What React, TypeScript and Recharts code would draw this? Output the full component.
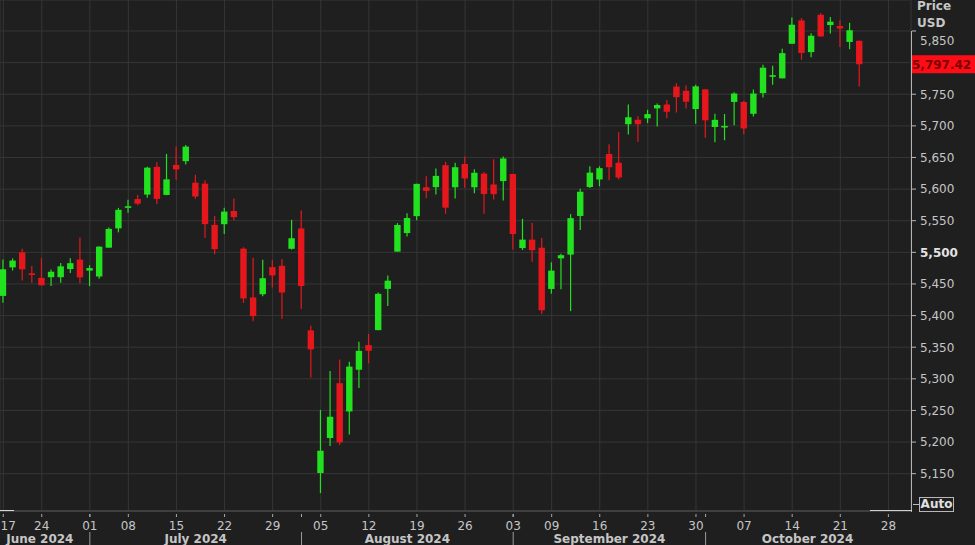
import React from 'react';
import { ComposedChart, Bar, XAxis, YAxis, CartesianGrid, ReferenceLine } from 'recharts';

// S&P 500 daily candles, 17 Jun 2024 .. 23 Oct 2024 (trading days only)
const dates = [
  'Jun 17', 'Jun 18', 'Jun 20', 'Jun 21', 'Jun 24', 'Jun 25', 'Jun 26', 'Jun 27', 'Jun 28',
  'Jul 01', 'Jul 02', 'Jul 03', 'Jul 05', 'Jul 08', 'Jul 09', 'Jul 10', 'Jul 11', 'Jul 12',
  'Jul 15', 'Jul 16', 'Jul 17', 'Jul 18', 'Jul 19', 'Jul 22', 'Jul 23', 'Jul 24', 'Jul 25',
  'Jul 26', 'Jul 29', 'Jul 30', 'Jul 31', 'Aug 01', 'Aug 02', 'Aug 05', 'Aug 06', 'Aug 07',
  'Aug 08', 'Aug 09', 'Aug 12', 'Aug 13', 'Aug 14', 'Aug 15', 'Aug 16', 'Aug 19', 'Aug 20',
  'Aug 21', 'Aug 22', 'Aug 23', 'Aug 26', 'Aug 27', 'Aug 28', 'Aug 29', 'Aug 30', 'Sep 03',
  'Sep 04', 'Sep 05', 'Sep 06', 'Sep 09', 'Sep 10', 'Sep 11', 'Sep 12', 'Sep 13', 'Sep 16',
  'Sep 17', 'Sep 18', 'Sep 19', 'Sep 20', 'Sep 23', 'Sep 24', 'Sep 25', 'Sep 26', 'Sep 27',
  'Sep 30', 'Oct 01', 'Oct 02', 'Oct 03', 'Oct 04', 'Oct 07', 'Oct 08', 'Oct 09', 'Oct 10',
  'Oct 11', 'Oct 14', 'Oct 15', 'Oct 16', 'Oct 17', 'Oct 18', 'Oct 21', 'Oct 22', 'Oct 23',
];

const opens = [
  5431.1, 5476.2, 5500.0, 5466.8, 5459.6, 5460.7, 5460.7, 5473.6, 5488.5,
  5471.1, 5461.8, 5507.4, 5537.9, 5572.8, 5584.2, 5591.3, 5635.2, 5590.8,
  5638.2, 5644.1, 5610.1, 5608.6, 5543.4, 5544.5, 5565.3, 5505.8, 5428.7,
  5433.7, 5476.6, 5478.7, 5505.6, 5537.8, 5376.6, 5151.1, 5206.4, 5293.1,
  5248.4, 5314.4, 5353.4, 5377.0, 5442.2, 5501.1, 5530.5, 5557.2, 5602.9,
  5603.1, 5637.8, 5602.9, 5639.7, 5602.9, 5624.5, 5607.3, 5612.7, 5623.9,
  5506.7, 5520.1, 5507.3, 5442.1, 5490.5, 5496.4, 5557.5, 5603.3, 5615.2,
  5655.5, 5641.7, 5702.6, 5709.6, 5711.9, 5727.6, 5733.7, 5762.2, 5755.4,
  5726.5, 5757.7, 5698.2, 5698.2, 5737.8, 5737.8, 5719.1, 5751.8, 5778.4,
  5775.1, 5829.8, 5866.7, 5816.6, 5875.6, 5859.4, 5857.8, 5832.7, 5834.5,
];

const highs = [
  5488.5, 5490.4, 5505.5, 5478.3, 5490.7, 5472.9, 5483.1, 5490.8, 5523.6,
  5479.6, 5509.7, 5539.3, 5570.3, 5583.1, 5590.8, 5635.4, 5642.5, 5655.6,
  5666.9, 5669.7, 5622.5, 5614.1, 5557.5, 5570.4, 5585.3, 5508.0, 5491.6,
  5488.3, 5487.7, 5489.5, 5551.5, 5566.2, 5383.9, 5250.9, 5312.3, 5330.6,
  5326.8, 5358.5, 5371.2, 5436.5, 5463.2, 5546.2, 5562.0, 5608.3, 5620.5,
  5632.7, 5643.2, 5641.8, 5651.6, 5631.2, 5627.0, 5647.0, 5651.4, 5623.9,
  5553.0, 5546.3, 5522.5, 5484.2, 5497.9, 5560.4, 5600.7, 5636.3, 5636.1,
  5670.8, 5689.8, 5733.6, 5715.1, 5725.4, 5735.3, 5741.0, 5767.4, 5763.8,
  5765.1, 5757.7, 5719.1, 5718.8, 5753.2, 5739.3, 5757.6, 5796.8, 5795.0,
  5822.1, 5871.4, 5870.4, 5846.5, 5878.5, 5872.2, 5866.9, 5863.0, 5834.9,
];

const lows = [
  5420.4, 5471.3, 5455.6, 5452.0, 5447.6, 5446.6, 5451.9, 5467.5, 5451.1,
  5446.5, 5458.4, 5507.4, 5531.6, 5562.5, 5574.6, 5586.4, 5576.5, 5590.4,
  5614.8, 5639.0, 5584.8, 5522.8, 5497.0, 5529.0, 5550.9, 5420.0, 5391.0,
  5430.7, 5444.4, 5395.0, 5504.5, 5410.4, 5302.0, 5119.3, 5193.6, 5195.5,
  5211.8, 5285.5, 5324.4, 5377.0, 5415.0, 5501.1, 5525.2, 5550.7, 5585.5,
  5591.6, 5561.0, 5585.2, 5602.3, 5593.5, 5561.0, 5583.7, 5581.8, 5504.3,
  5503.7, 5485.3, 5402.6, 5434.5, 5441.7, 5407.0, 5535.5, 5601.7, 5604.5,
  5614.1, 5615.1, 5686.4, 5674.5, 5704.2, 5699.0, 5712.1, 5721.0, 5727.3,
  5703.5, 5681.3, 5674.0, 5677.1, 5701.1, 5686.9, 5714.6, 5745.0, 5764.8,
  5775.1, 5829.8, 5804.5, 5808.3, 5840.3, 5846.1, 5824.8, 5821.2, 5762.4,
];

const closes = [
  5473.2, 5487.0, 5473.2, 5464.6, 5447.9, 5469.3, 5477.9, 5482.9, 5460.5,
  5475.1, 5509.0, 5537.0, 5567.2, 5572.9, 5577.0, 5633.9, 5584.5, 5615.4,
  5631.2, 5667.2, 5588.3, 5544.6, 5505.0, 5564.4, 5555.7, 5427.1, 5399.2,
  5459.1, 5463.5, 5436.4, 5522.3, 5446.7, 5346.6, 5186.3, 5240.0, 5199.5,
  5319.3, 5344.2, 5344.4, 5434.4, 5455.2, 5543.2, 5554.3, 5608.3, 5597.1,
  5620.9, 5570.6, 5634.6, 5616.8, 5625.8, 5592.2, 5592.0, 5648.4, 5528.9,
  5520.1, 5503.4, 5408.4, 5471.1, 5495.5, 5554.1, 5595.8, 5626.0, 5633.1,
  5634.6, 5618.3, 5713.6, 5702.6, 5718.6, 5732.9, 5722.3, 5745.4, 5738.2,
  5762.5, 5708.8, 5709.5, 5699.9, 5751.1, 5695.9, 5751.1, 5792.0, 5780.1,
  5815.0, 5859.9, 5815.3, 5842.5, 5841.5, 5864.7, 5854.0, 5851.2, 5797.42,
];

// x axis: trading-day index of each week start, and its label
const weekTicks = [0, 4, 9, 13, 18, 23, 28, 33, 38, 43, 48, 53, 57, 62, 67, 72, 77, 82, 87, 92];
const weekLabels = ['17', '24', '01', '08', '15', '22', '29', '05', '12', '19', '26', '03', '09', '16', '23', '30', '07', '14', '21', '28'];

// month row: first trading day of each month (separators) and label centres
const monthStarts = [9, 31, 53, 73];
const monthLabelAt = [3.8, 20, 42, 63, 83.6];
const monthLabels = ['June 2024', 'July 2024', 'August 2024', 'September 2024', 'October 2024'];

const priceTicks = [5150, 5200, 5250, 5300, 5350, 5400, 5450, 5500, 5550, 5600, 5650, 5700, 5750, 5800, 5850];

const GREEN = '#22e11f';
const RED = '#e5171c';
const BG = '#1f1f1f';
const GRID = '#363636';
const TEXT = '#c6c6c6';
const FONT = '"DejaVu Sans", Verdana, sans-serif';

const data = opens.map((o, k) => ({
  i: k,
  date: dates[k],
  open: o,
  high: highs[k],
  low: lows[k],
  close: closes[k],
  range: [lows[k], highs[k]],
}));

const lastClose = closes[closes.length - 1];

function Candle(props: any) {
  const { x, y, width, height, payload } = props;
  if (!payload) return null;
  const { open, close, high, low } = payload;
  const top = Math.min(y, y + height);
  const h = Math.abs(height);
  const perPt = h / (high - low || 1);
  const cx = x + width / 2;
  const yO = top + (high - open) * perPt;
  const yC = top + (high - close) * perPt;
  const color = close >= open ? GREEN : RED;
  const bodyTop = Math.min(yO, yC);
  const bodyH = Math.max(1.6, Math.abs(yO - yC));
  return (
    <g>
      <line x1={cx} x2={cx} y1={top} y2={top + h} stroke={color} strokeWidth={1.2} />
      <rect x={cx - 3.2} y={bodyTop} width={6.4} height={bodyH} fill={color} />
    </g>
  );
}

function PriceTick({ x, y, payload }: any) {
  const v = payload.value;
  if (v === 5800) return <g />;
  const bold = v === 5500;
  // top label sits a little lower, under the header
  const ty = v === 5850 ? y + 10 : y;
  return (
    <g>
      <line x1={x + 1} x2={x + 5} y1={y} y2={y} stroke="#b9b9b9" />
      <text
        x={x + 9}
        y={ty}
        dy="0.36em"
        fill={bold ? '#e2e2e2' : TEXT}
        fontFamily={FONT}
        fontSize={12}
        fontWeight={bold ? 'bold' : 'normal'}
      >
        {v.toLocaleString('en-US')}
      </text>
    </g>
  );
}

function DayTick({ x, y, index }: any) {
  const first = index === 0;
  return (
    <g>
      <line x1={x} x2={x} y1={y + 3} y2={y + 6} stroke="#a8a8a8" />
      <text
        x={first ? 0.5 : x}
        y={y + 18.5}
        textAnchor={first ? 'start' : 'middle'}
        fill={TEXT}
        fontFamily={FONT}
        fontSize={12}
      >
        {weekLabels[index] ?? ''}
      </text>
    </g>
  );
}

function MonthTick({ x, y, payload }: any) {
  const v = payload.value;
  if (monthStarts.includes(v)) {
    return (
      <g>
        <line x1={x} x2={x} y1={y - 17} y2={y - 14} stroke="#a8a8a8" />
        <line x1={x} x2={x} y1={y + 1} y2={y + 14} stroke="#9a9a9a" />
      </g>
    );
  }
  const k = monthLabelAt.indexOf(v);
  return (
    <text x={x} y={y + 11.5} textAnchor="middle" fill={TEXT} fontFamily={FONT} fontSize={12} fontWeight="bold">
      {monthLabels[k] ?? ''}
    </text>
  );
}

function PriceTag({ viewBox }: any) {
  if (!viewBox) return null;
  const x0 = viewBox.x + viewBox.width;
  const y0 = viewBox.y;
  return (
    <g>
      <rect x={x0} y={y0 - 9} width={975 - x0} height={18} fill="#ff0d17" />
      <text x={x0 + 1} y={y0} dy="0.36em" fill="#7c0000" fontFamily={FONT} fontSize={12} fontWeight="bold">
        {lastClose.toLocaleString('en-US', { minimumFractionDigits: 2 })}
      </text>
    </g>
  );
}

export default function App() {
  return (
    <div style={{ position: 'relative', width: 975, height: 545, background: BG, overflow: 'hidden' }}>
      <style>{'body{margin:0;background:#1f1f1f}'}</style>
      <ComposedChart
        width={975}
        height={545}
        data={data}
        margin={{ top: 0, right: 0, bottom: 0, left: 0 }}
      >
        <CartesianGrid stroke={GRID} vertical horizontal />
        <XAxis
          dataKey="i"
          type="number"
          domain={[-0.34, 94.35]}
          allowDataOverflow
          ticks={weekTicks}
          interval={0}
          height={20}
          tickSize={0}
          tickMargin={0}
          tickLine={false}
          axisLine={{ stroke: '#555555' }}
          tick={<DayTick />}
        />
        <XAxis
          xAxisId="m"
          dataKey="i"
          type="number"
          domain={[-0.34, 94.35]}
          allowDataOverflow
          ticks={[...monthLabelAt, ...monthStarts]}
          interval={0}
          height={14}
          tickSize={0}
          tickMargin={0}
          tickLine={false}
          axisLine={false}
          tick={<MonthTick />}
        />
        <YAxis
          orientation="right"
          type="number"
          domain={[5091, 5899]}
          allowDataOverflow
          ticks={priceTicks}
          interval={0}
          width={64}
          tickSize={0}
          tickMargin={0}
          tickLine={false}
          axisLine={false}
          tick={<PriceTick />}
        />
        <Bar dataKey="range" barSize={7} shape={<Candle />} isAnimationActive={false} />
        <ReferenceLine y={lastClose} stroke="none" label={<PriceTag />} />
      </ComposedChart>

      {/* axis frame bits and header */}
      <div style={{ position: 'absolute', left: 911, top: 31, width: 1, height: 481, background: '#b3b3b3' }} />
      <div style={{ position: 'absolute', left: 0, top: 510, width: 14, height: 1, background: '#d8d8d8' }} />
      <div style={{ position: 'absolute', left: 870, top: 510, width: 42, height: 1, background: '#cfcfcf' }} />
      <div style={{ position: 'absolute', left: 913, top: 504, width: 6, height: 1, background: '#bdbdbd' }} />
      <div
        style={{
          position: 'absolute',
          left: 919,
          top: 497,
          width: 33,
          height: 13,
          border: '1px solid #b8b8b8',
          color: '#e0e0e0',
          fontFamily: FONT,
          fontSize: 12,
          fontWeight: 'bold',
          lineHeight: '13px',
          textAlign: 'center',
        }}
      >
        Auto
      </div>
      <div
        style={{
          position: 'absolute',
          left: 917,
          top: -2,
          color: TEXT,
          fontFamily: FONT,
          fontSize: 12,
          fontWeight: 'bold',
          lineHeight: '17px',
        }}
      >
        Price
        <br />
        USD
      </div>
    </div>
  );
}
